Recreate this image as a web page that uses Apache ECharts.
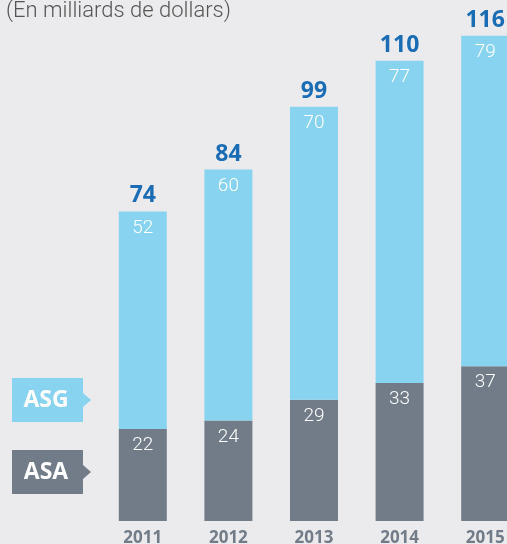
<!DOCTYPE html>
<html>
<head>
<meta charset="utf-8">
<script src="https://cdn.jsdelivr.net/npm/echarts@6/dist/echarts.min.js"></script>
<style>
  html, body { margin: 0; padding: 0; background: #ebebed; }
  #chart { width: 507px; height: 544px; }
</style>
</head>
<body>
<div id="chart"></div>
<script>
  // données (milliards de dollars)
  const years = ["2011", "2012", "2013", "2014", "2015"];
  const asa = [22, 24, 29, 33, 37];
  const asg = [52, 60, 70, 77, 79];
  const totals = [74, 84, 99, 110, 116];

  const lightBlue = "#88d3f0";
  const slate = "#717c88";

  const chart = echarts.init(document.getElementById("chart"));

  // étiquette-flèche de légende
  const tag = (top, text, color) => ({
    type: "group",
    left: 12,
    top: top,
    children: [
      {
        type: "polygon",
        shape: { points: [[0, 0], [71, 0], [71, 15], [79, 22], [71, 29], [71, 44], [0, 44]] },
        style: { fill: color }
      },
      {
        type: "text",
        x: 34,
        y: 22,
        style: {
          text: text,
          fill: "#fff",
          font: "bold 23px 'Open Sans', sans-serif",
          align: "center",
          verticalAlign: "middle"
        }
      }
    ]
  });

  const option = {
    backgroundColor: "#ebebed",
    animation: false,
    title: {
      text: "(En milliards de dollars)",
      left: 6,
      top: 0,
      padding: 0,
      textStyle: { color: "#555", fontSize: 22, fontWeight: 300, fontFamily: "Roboto, sans-serif" }
    },
    grid: { left: 100, width: 428, top: 19, bottom: 23, outerBoundsMode: "none", containLabel: false },
    xAxis: {
      type: "category",
      data: years,
      axisLine: { show: false },
      axisTick: { show: false },
      axisLabel: {
        color: slate,
        fontSize: 17,
        fontWeight: "bold",
        fontFamily: "'Open Sans', sans-serif",
        margin: 9
      }
    },
    yAxis: {
      type: "value",
      min: 0,
      max: 120,
      show: false,
      splitLine: { show: false }
    },
    graphic: [tag(378, "ASG", lightBlue), tag(450, "ASA", slate)],
    series: [
      {
        name: "ASA",
        type: "bar",
        stack: "t",
        data: asa,
        barWidth: 48,
        itemStyle: { color: slate },
        label: {
          show: true,
          position: "insideTop",
          distance: 7,
          color: "#fff",
          fontSize: 19,
          fontWeight: 300,
          fontFamily: "Roboto, sans-serif"
        }
      },
      {
        name: "ASG",
        type: "bar",
        stack: "t",
        data: asg,
        barWidth: 48,
        itemStyle: { color: lightBlue },
        label: {
          show: true,
          position: "insideTop",
          distance: 7,
          color: "#fff",
          fontSize: 19,
          fontWeight: 300,
          fontFamily: "Roboto, sans-serif"
        }
      },
      {
        name: "Total",
        type: "bar",
        data: totals,
        barWidth: 48,
        barGap: "-100%",
        z: 1,
        itemStyle: { color: "transparent" },
        label: {
          show: true,
          position: "top",
          distance: 4,
          color: "#1a6db5",
          fontSize: 23,
          fontWeight: "bold",
          fontFamily: "'Open Sans', sans-serif"
        }
      }
    ]
  };

  chart.setOption(option);
</script>
</body>
</html>
